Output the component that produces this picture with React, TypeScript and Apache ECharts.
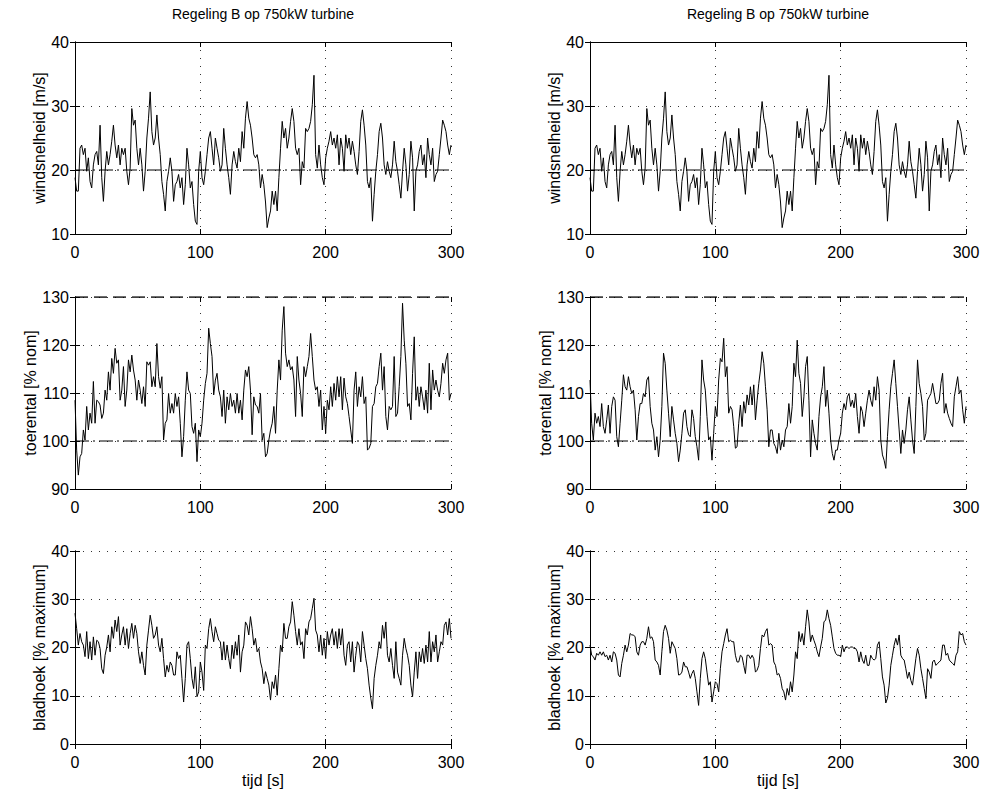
import React, { useEffect, useRef } from "react";
import * as echarts from "echarts";

// sample spacing of the traces (seconds)
const DT = 4 / 3;
const TITLE = "Regeling B op 750kW turbine";
const timeLabel = "tijd [s]";
const windLabel = "windsnelheid [m/s]";
const speedLabel = "toerental [% nom]";
const pitchLabel = "bladhoek [% maximum]";

const timeRange = [0, 300, 100];
const windRange = [10, 40, 10];
const speedRange = [90, 130, 10];
const pitchRange = [0, 40, 10];

const windRated = 20;
const speedUpper = 130;
const speedNominal = 100;

const wind = [
  18.8, 16.7, 16.7, 23.4, 23.9, 22.4, 23.4, 19.8, 21.9, 18.2,
  17.2, 20.8, 22.4, 22.9, 20.8, 27.0, 18.8, 15.1, 19.8, 22.9,
  20.8, 22.4, 24.5, 27.0, 23.9, 21.9, 23.9, 20.8, 23.4, 22.4,
  23.4, 19.8, 17.7, 20.3, 29.6, 27.0, 27.8, 23.4, 20.8, 23.4,
  20.8, 16.7, 19.8, 25.0, 28.1, 32.2, 26.0, 23.9, 25.0, 28.6,
  25.0, 22.4, 18.2, 16.2, 13.6, 18.2, 19.8, 21.9, 19.8, 15.1,
  17.7, 18.2, 19.3, 17.2, 18.8, 14.6, 17.7, 23.4, 20.8, 17.2,
  18.2, 14.6, 12.0, 11.5, 19.8, 22.9, 18.8, 17.7, 19.8, 22.4,
  25.0, 26.0, 23.4, 20.8, 25.0, 23.4, 21.9, 19.8, 20.8, 26.5,
  23.4, 20.8, 18.8, 16.2, 20.8, 22.9, 21.3, 20.3, 23.4, 21.3,
  26.0, 23.4, 28.1, 30.7, 28.1, 27.0, 25.0, 22.4, 21.9, 22.4,
  20.8, 17.2, 19.3, 17.7, 15.0, 11.0, 12.5, 13.6, 16.7, 14.6,
  16.7, 13.6, 18.8, 23.4, 27.6, 25.0, 26.5, 23.4, 25.0, 27.6,
  29.6, 27.6, 23.4, 22.4, 23.4, 17.7, 21.3, 20.3, 26.5, 26.0,
  26.5, 27.6, 30.2, 34.8, 22.4, 20.3, 23.9, 20.8, 18.8, 17.7,
  21.9, 23.4, 24.5, 26.0, 23.9, 25.0, 23.4, 25.5, 20.8, 25.0,
  23.4, 19.8, 25.5, 23.4, 25.0, 22.4, 24.5, 22.9, 20.8, 19.3,
  22.9, 27.6, 29.4, 27.0, 23.9, 18.2, 17.2, 18.8, 12.0, 16.2,
  19.8, 22.4, 26.0, 27.3, 25.0, 20.8, 19.3, 21.3, 19.8, 18.8,
  20.8, 24.5, 21.3, 19.8, 17.7, 15.6, 19.8, 23.4, 20.8, 16.7,
  19.3, 24.5, 21.9, 13.6, 19.8, 20.8, 22.9, 23.9, 20.8, 22.4,
  18.8, 25.0, 22.4, 20.8, 23.4, 18.2, 19.3, 19.8, 22.4, 25.0,
  27.8, 27.0, 26.0, 23.9, 22.4, 23.9,
];

const speedLeft = [
  108.5, 98.1, 92.9, 96.7, 97.4, 102.3, 100.2, 107.2, 102.3, 105.8,
  103.7, 112.4, 103.7, 108.5, 108.2, 107.5, 104.7, 105.8, 110.6, 108.5,
  114.4, 110.6, 117.2, 114.1, 119.3, 116.2, 116.9, 108.5, 110.6, 115.5,
  107.2, 110.6, 116.9, 114.4, 117.9, 114.8, 112.7, 108.5, 112.7, 110.6,
  107.8, 111.3, 107.2, 116.5, 115.8, 116.5, 111.3, 113.4, 111.3, 120.3,
  113.4, 111.0, 113.4, 100.2, 103.7, 104.4, 109.9, 105.8, 107.8, 105.8,
  109.9, 107.2, 109.2, 103.7, 96.7, 100.9, 108.5, 114.4, 110.6, 109.9,
  103.0, 101.6, 103.7, 95.7, 102.3, 100.9, 103.7, 108.5, 112.0, 114.1,
  123.5, 120.3, 117.6, 109.6, 112.7, 114.1, 110.6, 109.2, 105.1, 110.6,
  103.7, 109.2, 106.5, 109.9, 107.2, 108.5, 105.8, 109.9, 105.8, 108.5,
  104.4, 110.6, 114.8, 113.4, 115.5, 110.6, 101.3, 109.2, 107.5, 107.2,
  105.8, 109.9, 100.2, 101.6, 96.7, 97.4, 100.2, 102.3, 103.7, 107.2,
  101.6, 110.6, 116.9, 112.7, 123.1, 128.0, 118.3, 115.5, 116.9, 114.8,
  115.5, 112.7, 105.1, 117.6, 112.7, 109.9, 105.1, 115.5, 113.4, 115.5,
  117.6, 122.4, 117.6, 112.7, 110.6, 111.3, 107.2, 110.6, 102.3, 107.2,
  101.6, 108.5, 106.5, 111.3, 107.2, 112.0, 108.5, 113.4, 109.2, 113.4,
  106.5, 113.1, 109.2, 107.8, 105.1, 102.3, 99.5, 110.6, 114.4, 107.2,
  111.3, 109.2, 113.4, 107.8, 109.2, 98.1, 98.5, 99.5, 107.2, 107.8,
  111.3, 112.0, 115.5, 118.3, 110.6, 115.5, 105.1, 102.3, 107.2, 106.5,
  107.2, 117.6, 105.1, 105.8, 111.3, 117.6, 128.7, 121.0, 116.2, 107.2,
  107.8, 104.4, 114.1, 121.7, 108.5, 111.3, 107.2, 111.3, 109.2, 106.5,
  110.6, 105.8, 116.2, 106.5, 114.8, 110.6, 112.7, 110.6, 109.2, 112.0,
  116.2, 114.1, 116.9, 118.3, 108.5, 109.9,
];

const speedRight = [
  112.7, 103.7, 100.2, 105.8, 103.7, 105.1, 103.0, 107.8, 103.0, 101.6,
  104.4, 107.5, 101.6, 107.2, 109.2, 108.5, 100.9, 98.8, 103.7, 108.5,
  113.8, 111.3, 110.6, 113.4, 111.3, 109.9, 110.6, 106.5, 100.2, 105.1,
  107.8, 107.8, 109.9, 109.2, 112.7, 113.4, 107.2, 103.7, 102.3, 98.1,
  100.9, 96.7, 100.2, 107.2, 118.3, 116.2, 110.6, 105.8, 100.9, 107.2,
  104.4, 101.6, 99.5, 95.7, 98.1, 101.6, 105.8, 106.5, 103.0, 101.3,
  100.9, 106.5, 104.7, 100.9, 98.8, 96.0, 105.1, 116.9, 112.7, 110.6,
  105.1, 100.2, 100.9, 96.0, 101.6, 107.2, 105.1, 112.7, 117.2, 116.5,
  121.4, 113.4, 115.5, 105.8, 107.2, 106.5, 103.0, 98.5, 98.8, 103.7,
  107.5, 103.0, 108.2, 105.8, 109.6, 107.5, 111.3, 107.5, 111.7, 104.4,
  108.5, 112.0, 114.8, 118.6, 116.2, 111.3, 106.5, 98.8, 102.3, 102.3,
  99.5, 98.8, 97.4, 101.6, 98.1, 100.2, 98.8, 102.3, 103.0, 107.8,
  103.7, 107.2, 116.2, 113.4, 121.0, 114.1, 112.0, 105.1, 109.2, 115.5,
  117.6, 108.5, 96.7, 104.4, 101.6, 99.5, 98.1, 105.1, 109.2, 111.3,
  115.5, 107.2, 110.6, 105.8, 100.2, 97.4, 96.0, 98.1, 98.1, 100.2,
  101.6, 105.8, 107.8, 106.5, 109.2, 109.9, 107.2, 108.5, 106.9, 109.9,
  105.1, 101.6, 107.2, 106.1, 103.0, 105.8, 108.5, 110.6, 108.5, 107.2,
  111.3, 108.5, 113.4, 110.6, 100.2, 97.1, 96.0, 94.3, 100.9, 106.5,
  111.3, 114.1, 116.9, 112.0, 107.2, 102.3, 97.4, 102.3, 99.5, 102.3,
  106.5, 109.2, 104.4, 100.2, 97.4, 107.2, 116.9, 112.0, 109.9, 107.2,
  100.2, 101.6, 108.5, 109.2, 109.9, 112.0, 109.9, 107.8, 107.8, 108.5,
  112.0, 114.1, 105.8, 107.8, 105.8, 104.7, 103.7, 103.0, 109.2, 111.3,
  113.4, 109.9, 110.6, 106.5, 103.7, 107.2,
];

const pitchLeft = [
  27.1, 23.9, 20.5, 22.9, 21.2, 20.5, 18.1, 23.3, 17.7, 21.2,
  17.4, 22.2, 18.4, 21.5, 21.2, 19.8, 15.6, 14.6, 18.4, 20.1,
  22.6, 19.1, 24.3, 21.9, 25.7, 23.3, 26.4, 20.5, 22.6, 24.3,
  20.5, 23.9, 19.8, 22.9, 25.0, 21.9, 24.6, 22.9, 19.1, 16.7,
  19.1, 16.3, 14.3, 20.5, 23.6, 26.7, 24.6, 21.9, 22.6, 24.3,
  20.5, 19.1, 21.9, 17.7, 13.9, 16.3, 14.9, 17.0, 16.3, 14.3,
  14.3, 19.1, 17.7, 18.4, 13.6, 8.7, 13.6, 20.5, 21.2, 17.7,
  13.6, 11.5, 16.0, 9.8, 10.8, 17.0, 14.9, 11.1, 20.5, 19.8,
  23.9, 26.0, 23.3, 21.2, 24.3, 22.9, 21.5, 21.2, 17.4, 21.2,
  17.4, 20.5, 17.7, 15.6, 20.5, 17.7, 21.2, 18.4, 22.6, 14.9,
  19.1, 20.5, 25.3, 24.6, 22.6, 26.4, 23.9, 20.5, 21.9, 19.1,
  19.8, 17.0, 15.6, 12.5, 15.0, 13.6, 12.2, 9.1, 12.9, 11.5,
  14.3, 10.1, 15.6, 20.5, 19.1, 25.0, 21.9, 21.9, 24.3, 25.3,
  29.5, 26.7, 23.3, 20.5, 23.9, 20.5, 21.2, 17.7, 23.9, 22.6,
  25.3, 26.0, 28.1, 30.2, 23.6, 22.6, 19.1, 22.6, 18.4, 21.9,
  17.7, 23.3, 20.5, 22.6, 23.9, 20.5, 23.3, 19.8, 23.9, 20.5,
  23.9, 18.4, 16.3, 20.5, 21.2, 17.0, 21.2, 14.9, 18.4, 21.2,
  20.5, 17.0, 23.3, 20.5, 17.7, 15.6, 12.2, 9.5, 7.3, 13.6,
  16.3, 18.4, 21.2, 19.8, 24.6, 21.9, 25.3, 18.4, 17.0, 19.8,
  16.3, 13.6, 21.2, 14.9, 13.6, 12.2, 18.4, 21.9, 19.8, 18.4,
  16.3, 12.2, 9.8, 14.9, 19.1, 13.6, 19.1, 17.0, 19.8, 16.7,
  20.5, 17.0, 23.3, 17.0, 21.2, 19.1, 22.6, 17.0, 19.1, 21.2,
  20.5, 24.6, 25.3, 22.6, 26.0, 21.9,
];

const pitchRight = [
  20.5, 18.4, 18.1, 17.4, 18.8, 18.4, 19.1, 18.4, 19.1, 18.1,
  18.4, 17.4, 18.4, 17.0, 19.1, 18.8, 17.4, 14.3, 13.9, 16.7,
  18.4, 20.5, 19.1, 20.5, 22.9, 22.6, 22.6, 22.2, 19.1, 18.4,
  20.5, 21.2, 21.2, 20.5, 21.9, 24.3, 21.9, 22.2, 21.2, 17.4,
  17.0, 16.3, 14.3, 19.1, 23.3, 24.6, 23.6, 21.9, 18.8, 21.2,
  20.5, 19.8, 17.7, 14.3, 14.4, 14.9, 17.0, 16.0, 16.0, 14.9,
  13.6, 14.6, 15.3, 13.6, 10.8, 8.0, 13.6, 17.7, 19.1, 17.7,
  14.9, 12.2, 12.9, 8.7, 10.8, 12.9, 12.5, 10.8, 15.6, 19.1,
  20.8, 22.6, 23.9, 21.2, 21.5, 21.2, 21.2, 18.4, 17.0, 17.0,
  18.4, 18.1, 16.3, 14.6, 18.4, 18.4, 17.7, 18.4, 17.7, 14.9,
  15.3, 16.3, 19.8, 22.6, 22.2, 23.3, 23.9, 20.5, 20.8, 20.5,
  17.0, 16.3, 14.3, 14.6, 13.6, 11.5, 10.8, 9.1, 11.5, 10.1,
  12.9, 10.8, 14.3, 19.1, 17.7, 23.3, 21.2, 22.9, 20.5, 24.3,
  27.8, 25.3, 21.2, 22.6, 21.5, 20.5, 19.1, 18.1, 20.1, 21.9,
  25.3, 25.7, 27.8, 26.0, 24.6, 22.2, 19.8, 18.8, 18.4, 18.4,
  18.1, 20.5, 19.1, 20.1, 20.1, 19.8, 20.1, 20.1, 19.8, 19.8,
  19.1, 17.0, 19.1, 17.4, 16.7, 18.4, 16.3, 16.3, 18.4, 17.7,
  17.4, 17.7, 20.5, 21.2, 17.7, 13.9, 12.2, 8.5, 9.5, 12.2,
  16.3, 18.4, 20.5, 21.9, 20.5, 22.6, 18.4, 17.7, 17.4, 15.6,
  13.6, 14.9, 13.2, 12.2, 14.9, 17.7, 19.8, 18.4, 15.6, 13.6,
  11.5, 9.4, 15.6, 14.9, 13.6, 17.0, 17.4, 16.3, 16.7, 17.0,
  17.4, 20.5, 20.5, 18.4, 18.8, 17.4, 17.0, 16.7, 16.3, 18.4,
  19.1, 23.3, 22.6, 22.9, 21.2, 20.5,
];

const FONT = "'Liberation Sans', Arial, Helvetica, sans-serif";

export default function App() {
  const ref = useRef<HTMLDivElement>(null);

  useEffect(() => {
    if (!ref.current) return;
    const chart = echarts.init(ref.current, undefined, { renderer: "svg" });

    const colLeft = [75, 590];
    const plotW = 376;
    const rows = [
      { top: 42, h: 192 },
      { top: 297, h: 192 },
      { top: 551, h: 193 },
    ];

    const dashDot = [14, 4, 2, 4];
    const dashed = [13, 6];
    const panels = [
      { col: 0, row: 0, data: wind, range: windRange, name: windLabel, refs: [{ v: windRated, type: dashDot, w: 1 }] },
      { col: 1, row: 0, data: wind, range: windRange, name: windLabel, refs: [{ v: windRated, type: dashDot, w: 1 }] },
      { col: 0, row: 1, data: speedLeft, range: speedRange, name: speedLabel, refs: [{ v: speedUpper, type: dashed, w: 1.5 }, { v: speedNominal, type: dashDot, w: 1 }] },
      { col: 1, row: 1, data: speedRight, range: speedRange, name: speedLabel, refs: [{ v: speedUpper, type: dashed, w: 1.5 }, { v: speedNominal, type: dashDot, w: 1 }] },
      { col: 0, row: 2, data: pitchLeft, range: pitchRange, name: pitchLabel, refs: [] as { v: number; type: number[]; w: number }[] },
      { col: 1, row: 2, data: pitchRight, range: pitchRange, name: pitchLabel, refs: [] as { v: number; type: number[]; w: number }[] },
    ];

    const grid: any[] = [];
    const xAxis: any[] = [];
    const yAxis: any[] = [];
    const series: any[] = [];

    const tickStyle = { show: true, inside: true, length: 5, lineStyle: { color: "#000", width: 1 } };
    const lineStyle = { show: true, lineStyle: { color: "#000", width: 1 } };
    const splitStyle = { show: true, lineStyle: { color: "#333", width: 1, type: [1, 7] } };
    const labelStyle = { color: "#000", fontSize: 16, fontFamily: FONT };

    panels.forEach((p, k) => {
      grid.push({
        left: colLeft[p.col],
        top: rows[p.row].top,
        width: plotW,
        height: rows[p.row].h,
        show: false,
      });
      const isBottom = p.row === 2;
      xAxis.push({
        type: "value",
        gridIndex: k,
        min: timeRange[0],
        max: timeRange[1],
        interval: timeRange[2],
        position: "bottom",
        axisLine: lineStyle,
        axisTick: tickStyle,
        axisLabel: { ...labelStyle, margin: 10 },
        splitLine: splitStyle,
        name: isBottom ? timeLabel : "",
        nameLocation: "middle",
        nameGap: 28,
        nameTextStyle: { ...labelStyle },
      });
      xAxis.push({
        type: "value",
        gridIndex: k,
        min: timeRange[0],
        max: timeRange[1],
        interval: timeRange[2],
        position: "top",
        axisLine: p.row === 1 ? { show: false } : lineStyle,
        axisTick: tickStyle,
        axisLabel: { show: false },
        splitLine: { show: false },
      });
      yAxis.push({
        type: "value",
        gridIndex: k,
        min: p.range[0],
        max: p.range[1],
        interval: p.range[2],
        position: "left",
        axisLine: lineStyle,
        axisTick: tickStyle,
        axisLabel: { ...labelStyle, margin: 6 },
        splitLine: splitStyle,
        name: p.name,
        nameLocation: "middle",
        nameRotate: 90,
        nameGap: 24,
        nameTextStyle: { ...labelStyle },
      });
      yAxis.push({
        type: "value",
        gridIndex: k,
        min: p.range[0],
        max: p.range[1],
        interval: p.range[2],
        position: "right",
        axisLine: lineStyle,
        axisTick: tickStyle,
        axisLabel: { show: false },
        splitLine: { show: false },
      });

      p.refs.forEach((r) => {
        series.push({
          type: "line",
          xAxisIndex: 2 * k,
          yAxisIndex: 2 * k,
          data: [
            [timeRange[0], r.v],
            [timeRange[1], r.v],
          ],
          symbol: "none",
          lineStyle: { color: "#000", width: r.w, type: r.type },
          z: 3,
        });
      });

      series.push({
        type: "line",
        xAxisIndex: 2 * k,
        yAxisIndex: 2 * k,
        data: p.data.map((v, i) => [i * DT, v]),
        symbol: "none",
        lineStyle: { color: "#000", width: 1 },
        z: 4,
      });
    });

    const titleStyle = { text: TITLE, fontSize: 14, fontFamily: FONT, fill: "#000", align: "center", verticalAlign: "middle" };
    chart.setOption({
      animation: false,
      backgroundColor: "#fff",
      grid,
      xAxis,
      yAxis,
      series,
      graphic: [
        { type: "text", x: colLeft[0] + plotW / 2, y: 14, style: titleStyle },
        { type: "text", x: colLeft[1] + plotW / 2, y: 14, style: titleStyle },
      ],
    });

    return () => chart.dispose();
  }, []);

  return (
    <div
      ref={ref}
      style={{ position: "absolute", left: 0, top: 0, width: 993, height: 801, background: "#fff" }}
    />
  );
}
